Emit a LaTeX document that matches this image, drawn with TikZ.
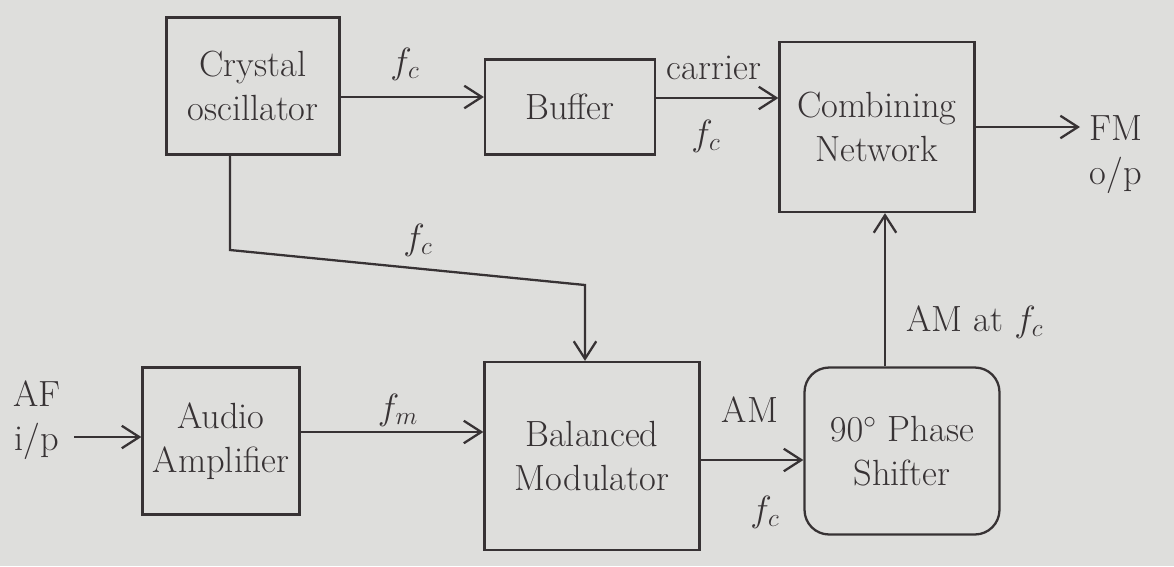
\documentclass[tikz,border=0pt]{standalone}
\usepackage{tikz}
\usetikzlibrary{arrows.meta}
\definecolor{paper}{RGB}{222,222,220}
\definecolor{ink}{RGB}{55,50,52}
\tikzset{
	block/.style={draw=ink, line width=1.3pt, align=center, text=ink, font=\huge},
	lbl/.style={text=ink, font=\huge, align=center},
	wire/.style={draw=ink, line width=1.3pt, -{Straight Barb[length=3.5mm,width=4.5mm]}}
}
\begin{document}
\begin{tikzpicture}[x=0.02cm, y=-0.02cm]
		%%%%% START %%%%%
		
		\fill[paper] (0, 0) rectangle (1174, 566);
		\useasboundingbox (0, 0) rectangle (1174, 566);
		
		\node[block, minimum width=3.46cm, minimum height=2.74cm] (osc) at (253, 86) {Crystal\\oscillator};
		\node[block, minimum width=3.4cm, minimum height=1.9cm] (buf) at (570, 107) {Buffer};
		\node[block, minimum width=3.9cm, minimum height=3.4cm] (comb) at (877, 127) {Combining\\Network};
		
		\node[block, minimum width=3.14cm, minimum height=2.94cm] (amp) at (221, 441) {Audio\\Amplifier};
		\node[block, minimum width=4.3cm, minimum height=3.76cm] (bal) at (592, 456) {Balanced\\Modulator};
		\node[block, rounded corners=14pt, minimum width=3.9cm, minimum height=3.34cm] (shift) at (902, 451) {$90^\circ$ Phase\\Shifter};
		
		\node[lbl] (afin) at (37, 420) {AF\\i/p};
		\node[lbl] (fmout) at (1116, 155) {FM\\o/p};
		\coordinate (afstart) at (74, 437);
		\coordinate (fmend) at (1080, 127);
		
		% top row
		\draw[wire] (osc.east |- 0, 97) -- (buf.west |- 0, 97);
		\draw[wire] (buf.east |- 0, 98) -- (comb.west |- 0, 98);
		\draw[wire] (comb.east |- fmend) -- (fmend);
		
		% carrier down to the modulator
		\draw[wire] (osc.south -| 230, 0) -- (230, 250) -- (585, 285) -- (bal.north -| 585, 0);
		
		% bottom row
		\draw[wire] (afstart) -- (amp.west |- afstart);
		\draw[wire] (amp.east |- 0, 432) -- (bal.west |- 0, 432);
		\draw[wire] (bal.east |- 0, 460) -- (shift.west |- 0, 460);
		\draw[wire] (shift.north -| 885, 0) -- (comb.south -| 885, 0);
		
		\node[lbl] (fca) at (405, 64) {$f_c$};
		\node[lbl] (carr) at (714, 68) {carrier};
		\node[lbl] (fcb) at (706, 136) {$f_c$};
		\node[lbl] (fcd) at (418, 240) {$f_c$};
		\node[lbl] (fmod) at (398, 410) {$f_m$};
		\node[lbl] (amlbl) at (750, 410) {AM};
		\node[lbl] (fce) at (765, 512) {$f_c$};
		\node[lbl] (amfc) at (975, 322) {AM at $f_c$};
		
		%%%%% END %%%%%
\end{tikzpicture}
\end{document}
